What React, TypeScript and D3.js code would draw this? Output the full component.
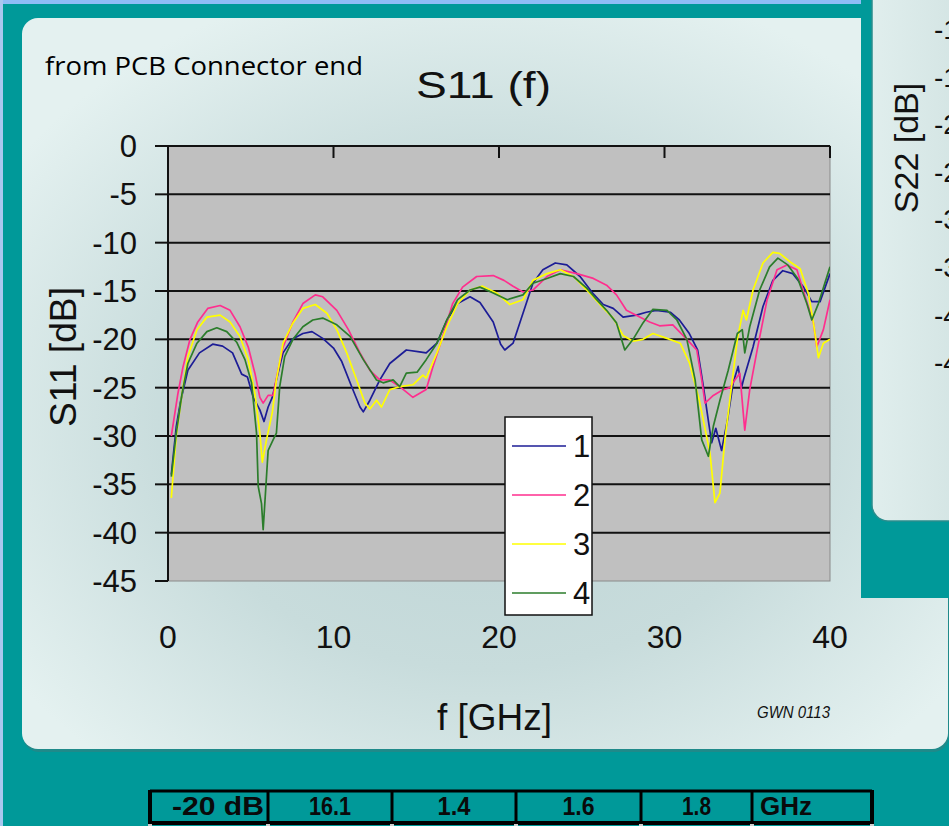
import React from "react";
import * as d3 from "d3";

type P = [number, number];

const series1: P[] = [[0.2,-34],[0.5,-29],[0.75,-26.5],[1.2,-23.2],[1.9,-21.4],[2.7,-20.5],[3.3,-20.7],[3.9,-21.4],[4.45,-23.6],[4.8,-23.9],[5.15,-26],[5.55,-27.3],[5.8,-28.5],[6.05,-27],[6.3,-26],[6.55,-24.2],[6.95,-21.4],[7.5,-20],[8.15,-19.4],[8.7,-19.2],[9.35,-19.9],[10,-20.9],[10.5,-22.3],[11.1,-24.9],[11.6,-27],[11.8,-27.5],[12.2,-26.3],[12.8,-24.2],[13.4,-22.5],[14.4,-21.1],[15.2,-21.3],[15.6,-21.4],[16.25,-20.4],[16.85,-18],[17.5,-16.3],[18.25,-15.6],[18.85,-16.2],[19.65,-18.2],[20.1,-20.5],[20.35,-21.1],[20.85,-20.4],[21.45,-17.3],[22.05,-14.2],[22.65,-12.8],[23.4,-12.1],[24.1,-12.3],[24.9,-13.5],[25.7,-15.3],[26.3,-16.4],[26.9,-16.8],[27.5,-17.7],[28.3,-17.5],[28.9,-17.2],[29.5,-17],[30.35,-17.2],[30.9,-18],[31.5,-19.4],[32,-21.1],[32.35,-24.9],[32.65,-28.4],[32.85,-30.7],[33.1,-29.2],[33.45,-31.5],[33.8,-28.4],[34.15,-24.5],[34.45,-22.8],[34.65,-25],[34.8,-24],[35.35,-20.8],[35.95,-16.6],[36.55,-13.9],[37.15,-12.9],[37.75,-13.2],[38.4,-14.6],[38.9,-16.1],[39.4,-16.1],[40,-13.2]];

const series2: P[] = [[0.2,-30],[0.6,-25.6],[0.9,-22.9],[1.33,-20],[1.8,-18.2],[2.4,-16.8],[3.15,-16.5],[3.75,-17],[4.35,-18.7],[4.85,-20.8],[5.25,-23.5],[5.55,-26],[5.75,-26.6],[6.05,-25.8],[6.35,-25.8],[6.65,-23.2],[6.95,-20.8],[7.55,-18.2],[8.15,-16.3],[8.9,-15.4],[9.35,-15.6],[10.2,-17],[10.9,-19],[11.6,-21.4],[12.2,-23.2],[12.8,-24.2],[13.4,-24.2],[14,-24.9],[14.8,-26],[15.6,-25.2],[16,-22.9],[16.6,-19.7],[17.2,-16.3],[17.8,-14.6],[18.65,-13.5],[19.65,-13.4],[20.3,-13.9],[20.85,-14.5],[21.45,-15.1],[22.05,-14.9],[22.9,-13.5],[23.7,-12.8],[24.7,-13.2],[25.7,-13.7],[26.5,-14.4],[27.1,-15.4],[27.7,-17],[28.5,-17.7],[29.1,-18.2],[29.7,-18.6],[30.5,-18.5],[31.35,-20],[31.95,-21.1],[32.25,-24.2],[32.45,-26.6],[32.95,-25.8],[33.55,-25.2],[33.95,-25],[34.25,-24.2],[34.55,-23.5],[34.85,-29.4],[35.15,-25.2],[35.6,-21.1],[36.2,-15.9],[36.8,-12.8],[37.4,-12.3],[38,-12.8],[38.5,-15.6],[39,-18.3],[39.2,-20.8],[39.6,-19],[40,-15.9]];

const series3: P[] = [[0.2,-36.4],[0.5,-30],[0.85,-25.6],[1.2,-21.8],[1.75,-19],[2.35,-17.7],[3.15,-17.5],[3.75,-18.2],[4.35,-19.7],[4.85,-22.1],[5.25,-25.6],[5.55,-29.7],[5.7,-32.7],[5.95,-30.4],[6.3,-27.6],[6.55,-24.2],[6.95,-20.4],[7.55,-18.3],[8.15,-16.8],[8.9,-16.4],[9.6,-17.3],[10.2,-19],[10.8,-21.4],[11.4,-24.2],[11.9,-26.6],[12.2,-27.2],[12.6,-26.3],[12.9,-27],[13.4,-25.2],[14,-24.9],[14.8,-24.7],[15.4,-23.7],[15.6,-24],[16.25,-21.4],[16.85,-18.7],[17.5,-16.3],[18.25,-14.9],[19,-14.5],[19.85,-15.2],[20.65,-16.4],[21.45,-15.9],[22.05,-13.9],[22.9,-13.2],[23.7,-12.8],[24.5,-13.5],[25.3,-14.9],[26.1,-16.4],[26.9,-17.8],[27.5,-19.6],[28.1,-20.2],[28.7,-20],[29.3,-19.4],[30.15,-19.9],[30.95,-20.4],[31.5,-22.4],[32.1,-26.3],[32.75,-31.8],[33.05,-36.9],[33.35,-35.9],[33.65,-30.4],[34.1,-24.2],[34.4,-20],[34.75,-17],[34.95,-18],[35.35,-14.9],[35.95,-12.1],[36.55,-11],[36.95,-11.1],[37.6,-12],[38.2,-12.7],[38.7,-15.3],[39,-18.3],[39.3,-21.9],[39.6,-20.4],[40,-20]];

const series4: P[] = [[0.2,-34.2],[0.5,-29.7],[0.85,-25.6],[1.2,-22.5],[1.75,-20.4],[2.35,-19.2],[2.95,-18.8],[3.55,-19.2],[4.15,-20.3],[4.65,-22.1],[5.05,-24.5],[5.35,-29.7],[5.45,-35.2],[5.65,-37],[5.75,-39.7],[5.9,-35.6],[6.05,-31.5],[6.35,-30.4],[6.55,-29.7],[6.75,-24.9],[7.05,-21.8],[7.55,-20],[8.15,-18.7],[8.75,-18],[9.35,-17.8],[10.2,-18.5],[11,-19.7],[11.8,-22.1],[12.6,-24.2],[13,-24.5],[13.6,-24.2],[14,-24.9],[14.4,-23.5],[15.05,-23.4],[15.6,-22.1],[16.25,-20.4],[16.85,-18],[17.5,-15.9],[18.25,-14.9],[18.85,-14.6],[19.65,-15.2],[20.5,-15.9],[21.45,-15.4],[22.05,-14.2],[22.9,-13.7],[23.7,-13.2],[24.5,-13.5],[25.3,-14.7],[25.9,-15.9],[26.5,-17],[27.1,-18.3],[27.6,-21.1],[28.1,-20],[28.7,-18.3],[29.3,-16.9],[30.15,-17],[30.75,-18],[31.35,-20],[31.85,-24.2],[32.25,-30.4],[32.65,-32.1],[32.95,-29],[33.35,-26.3],[33.85,-23.2],[34.4,-19.4],[34.7,-19],[34.85,-21.4],[35.15,-18.7],[35.75,-14.9],[36.35,-12.5],[36.85,-11.6],[37.45,-12.3],[38.05,-13.7],[38.6,-16.3],[38.9,-18],[39.3,-16.3],[40,-12.5]];

const seriesNames = ["1", "2", "3", "4"];
const seriesColors = ["#1c1c96", "#ff2e8e", "#ffff00", "#2b7d2b"];
const yTicks = [0, -5, -10, -15, -20, -25, -30, -35, -40, -45];
const xTicks = [0, 10, 20, 30, 40];
const tableCells = ["-20 dB", "16.1", "1.4", "1.6", "1.8", "GHz"];
const s22TickLabels = ["-10", "-15", "-20", "-25", "-30", "-35", "-40", "-45"];

const FONT = "'Liberation Sans', Arial, sans-serif";

export default function App() {
  const W = 949, H = 826;
  const L = 168, R = 830, T = 146, B = 581;
  const x = d3.scaleLinear().domain([0, 40]).range([L, R]);
  const y = d3.scaleLinear().domain([0, -45]).range([T, B]);
  const line = d3.line<P>().x(d => x(d[0])).y(d => y(d[1]));
  const all = [series1, series2, series3, series4];

  const yS22 = d3.scaleLinear().domain([-10, -45]).range([29, 362]);

  const colEdges = [150, 268, 392, 516, 641, 752, 872];
  const cellTextW = [92, 42, 33, 32, 29, 52];
  const tT = 791, tB = 823;

  const lg = { x: 505, y: 417, w: 87, h: 198 };

  return (
    <svg width={W} height={H} style={{ position: "absolute", left: 0, top: 0, display: "block" }}>
      <defs>
        <radialGradient id="pg" cx="50%" cy="55%" r="62%">
          <stop offset="0%" stopColor="#bcd3d4" />
          <stop offset="55%" stopColor="#c8dcdc" />
          <stop offset="100%" stopColor="#e4f1f0" />
        </radialGradient>
        <linearGradient id="og" x1="0" x2="1" y1="0" y2="0">
          <stop offset="0%" stopColor="#e0eeed" />
          <stop offset="100%" stopColor="#cfe1e0" />
        </linearGradient>
        <clipPath id="plotClip">
          <rect x={L} y={T} width={R - L} height={B - T + 1} />
        </clipPath>
      </defs>

      <rect x={0} y={0} width={W} height={H} fill="#009999" />
      <rect x={0} y={0} width={W} height={4} fill="#8fbdf6" />
      <rect x={0} y={0} width={3} height={H} fill="#a9c7ef" />

      <rect x={23} y={20} width={926} height={732} rx={16} fill="#1f8a8a" />
      <rect x={22} y={18} width={926} height={731} rx={16} fill="url(#pg)" />

      <text x={45} y={75} fontFamily="'Open Sans', sans-serif" fontSize={25} textLength={318} lengthAdjust="spacingAndGlyphs" fill="#000">from PCB Connector end</text>
      <text x={416} y={98} fontFamily={FONT} fontSize={36} textLength={135} lengthAdjust="spacingAndGlyphs" fill="#111">S11 (f)</text>

      <rect x={L} y={T} width={R - L} height={B - T} fill="#c0c0c0" stroke="#8a8a8a" strokeWidth={1} />
      {yTicks.filter(t => t !== 0 && t !== -45).map(t => (
        <line key={"g" + t} x1={L} x2={R} y1={y(t)} y2={y(t)} stroke="#111" strokeWidth={2} />
      ))}

      <g clipPath="url(#plotClip)">
        {all.map((s, i) => (
          <path key={i} d={line(s) || ""} fill="none" stroke={seriesColors[i]} strokeWidth={1.7} strokeLinejoin="round" />
        ))}
      </g>

      <line x1={L} x2={R} y1={T} y2={T} stroke="#111" strokeWidth={2} />
      <line x1={L} x2={L} y1={T} y2={B} stroke="#111" strokeWidth={2} />
      {yTicks.map(t => (
        <g key={"yt" + t}>
          <line x1={L - 13} x2={L} y1={y(t)} y2={y(t)} stroke="#111" strokeWidth={2} />
          <text x={137} y={y(t)} dy="0.36em" textAnchor="end" fontFamily={FONT} fontSize={31} fill="#111">{t}</text>
        </g>
      ))}
      {xTicks.map(t => (
        <g key={"xt" + t}>
          {t !== 0 && <line x1={x(t)} x2={x(t)} y1={T} y2={T + 12} stroke="#111" strokeWidth={2} />}
          <text x={x(t)} y={648} textAnchor="middle" fontFamily={FONT} fontSize={32} fill="#111">{t}</text>
        </g>
      ))}
      <text transform="translate(76,357) rotate(-90)" textAnchor="middle" fontFamily={FONT} fontSize={36} textLength={140} lengthAdjust="spacingAndGlyphs" fill="#111">S11 [dB]</text>
      <text x={437} y={730} fontFamily={FONT} fontSize={37} textLength={115} lengthAdjust="spacingAndGlyphs" fill="#111">f [GHz]</text>
      <text x={757} y={718} fontFamily={FONT} fontSize={16} fontStyle="italic" textLength={73} lengthAdjust="spacingAndGlyphs" fill="#111">GWN 0113</text>

      <rect x={lg.x} y={lg.y} width={lg.w} height={lg.h} fill="#fff" stroke="#111" strokeWidth={1.5} />
      {seriesNames.map((n, i) => {
        const yy = 446 + i * 49;
        return (
          <g key={"lg" + n}>
            <line x1={512} x2={566} y1={yy} y2={yy} stroke={seriesColors[i]} strokeWidth={1.7} />
            <text x={573} y={yy + 11} fontFamily={FONT} fontSize={31} fill="#111">{n}</text>
          </g>
        );
      })}

      <rect x={861} y={0} width={W - 861} height={598} fill="#009999" />
      <rect x={872} y={-30} width={120} height={551} rx={16} fill="url(#og)" stroke="#2a8d8d" strokeWidth={1.5} />
      <text transform="translate(918,148) rotate(-90)" textAnchor="middle" fontFamily={FONT} fontSize={34} fill="#111">S22 [dB]</text>
      {s22TickLabels.map(t => (
        <text key={"s22" + t} x={934} y={yS22(+t)} dy="0.36em" fontFamily={FONT} fontSize={28} fill="#111">{t}</text>
      ))}

      {tableCells.map((c, i) => {
        const x0 = colEdges[i], x1 = colEdges[i + 1];
        const tx = i === 0 ? x1 - 4 - cellTextW[i] : i === 5 ? x0 + 8 : (x0 + x1) / 2 - cellTextW[i] / 2;
        return (
          <text key={"tc" + i} x={tx} y={815} fontFamily={FONT} fontWeight="bold" fontSize={25} textLength={cellTextW[i]} lengthAdjust="spacingAndGlyphs" fill="#0a0a0a">{c}</text>
        );
      })}
      <line x1={colEdges[0]} x2={colEdges[6]} y1={tT} y2={tT} stroke="#000" strokeWidth={3} />
      <line x1={colEdges[0]} x2={colEdges[6]} y1={tB} y2={tB} stroke="#000" strokeWidth={4} />
      {colEdges.map((e, i) => (
        <line key={"ce" + i} x1={e} x2={e} y1={tT - 1} y2={H} stroke="#000" strokeWidth={i === 0 || i === 6 ? 4 : 3} />
      ))}
      {colEdges.map((e, i) => (
        <rect key={"ch" + i} x={e - 2} y={tB + 1} width={4} height={3} fill="#d0d0d0" />
      ))}
    </svg>
  );
}
